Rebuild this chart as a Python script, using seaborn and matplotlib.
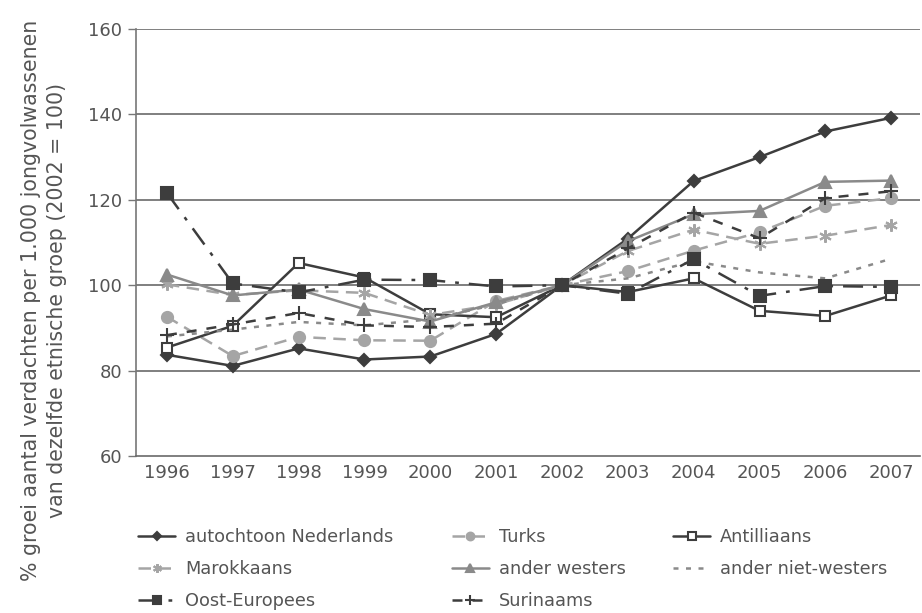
import matplotlib
matplotlib.use("Agg")
import matplotlib.pyplot as plt
import seaborn as sns
import pandas as pd

years = list(range(1996, 2008))

autochtoon = [83.7, 81.1, 85.2, 82.6, 83.3, 88.6, 100, 110.9, 124.4, 130.0, 136.0, 139.2]
turks = [92.6, 83.4, 87.9, 87.1, 87.0, 96.3, 100, 103.3, 108.1, 112.4, 118.6, 120.4]
antilliaans = [85.4, 90.5, 105.2, 101.8, 93.2, 92.5, 100, 98.4, 101.6, 94.0, 92.8, 97.6]
marokkaans = [100.2, 97.7, 98.8, 98.2, 93.0, 95.5, 100, 108.0, 113.0, 109.7, 111.6, 114.1]
ander_westers = [102.5, 97.6, 99.0, 94.4, 91.5, 96.0, 100, 110.3, 116.6, 117.4, 124.2, 124.5]
ander_niet_westers = [88.0, 89.6, 91.4, 90.6, 92.0, 95.5, 100, 101.6, 105.6, 103.0, 101.6, 106.2]
oost_europees = [121.6, 100.4, 98.3, 101.3, 101.2, 99.7, 100, 98.0, 106.1, 97.5, 99.8, 99.6]
surinaams = [88.3, 90.8, 93.5, 90.6, 90.2, 91.0, 100, 108.6, 117.0, 111.0, 120.4, 122.0]

names = ["autochtoon Nederlands", "Turks", "Antilliaans", "Marokkaans", "ander westers",
         "ander niet-westers", "Oost-Europees", "Surinaams"]
series = [autochtoon, turks, antilliaans, marokkaans, ander_westers,
          ander_niet_westers, oost_europees, surinaams]

rows = []
for n, vals in zip(names, series):
    for y, v in zip(years, vals):
        rows.append({"jaar": y, "waarde": v, "groep": n})
df = pd.DataFrame(rows)

dark = "#3d3d3d"
mid = "#8a8a8a"
light = "#a5a5a5"

styles = {
    "autochtoon Nederlands": dict(color=dark, marker="D", ms=6.5, mfc=dark, mec=dark, dashes=None),
    "Turks": dict(color=light, marker="o", ms=8, mfc=light, mec=light, dashes=(5, 3)),
    "Antilliaans": dict(color=dark, marker="s", ms=7.5, mfc="white", mec=dark, dashes=None),
    "Marokkaans": dict(color=light, marker=(6, 2, 0), ms=9, mfc=light, mec=light, dashes=(5, 3)),
    "ander westers": dict(color=mid, marker="^", ms=8, mfc=mid, mec=mid, dashes=None),
    "ander niet-westers": dict(color=mid, marker=None, ms=0, mfc=mid, mec=mid, dashes=(2, 3)),
    "Oost-Europees": dict(color=dark, marker="s", ms=8, mfc=dark, mec=dark, dashes=(8, 4, 1.5, 4)),
    "Surinaams": dict(color=dark, marker="+", ms=10, mfc=dark, mec=dark, dashes=(4, 4)),
}

sns.set_theme(style="white")
plt.rcParams["font.family"] = ["DejaVu Sans"]

fig = plt.figure(figsize=(9.22, 6.13), dpi=100)
ax = fig.add_axes([0.1475, 0.2561, 0.998 - 0.1475, 0.9527 - 0.2561])

handles = {}
for n in names:
    st = styles[n]
    sub = df[df["groep"] == n]
    kw = dict(color=st["color"], linewidth=1.8, label=n, ax=ax, legend=False)
    if st["marker"] is not None:
        kw.update(marker=st["marker"], markersize=st["ms"], markerfacecolor=st["mfc"],
                  markeredgecolor=st["mec"], markeredgewidth=1.5)
    sns.lineplot(data=sub, x="jaar", y="waarde", **kw)
    line = ax.get_lines()[-1]
    if st["dashes"] is not None:
        line.set_dashes(st["dashes"])
    handles[n] = line

ax.set_xlim(1995.53, 2007.44)
ax.set_ylim(60, 160)
ax.set_xticks(years)
ax.set_yticks([60, 80, 100, 120, 140, 160])
ax.tick_params(axis="x", length=0, labelsize=13, labelcolor="#555555", pad=6)
ax.tick_params(axis="y", length=6, width=1, color="#777777", labelsize=13, labelcolor="#555555", direction="out", left=True, pad=4)
for y in [80, 100, 120, 140, 160]:
    ax.axhline(y, color="#6a6a6a", linewidth=1.2, zorder=0)
for s in ["top", "right"]:
    ax.spines[s].set_visible(False)
ax.spines["left"].set_color("#777777")
ax.spines["bottom"].set_color("#6a6a6a")
ax.spines["left"].set_linewidth(1.2)
ax.spines["bottom"].set_linewidth(1.2)
ax.set_xlabel("")
ax.set_ylabel("% groei aantal verdachten per 1.000 jongvolwassenen\nvan dezelfde etnische groep (2002 = 100)",
              fontsize=14.8, color="#555555", linespacing=1.35)
ax.yaxis.set_label_coords(-0.088, 0.365)

columns = [
    (["autochtoon Nederlands", "Marokkaans", "Oost-Europees"], 0.1497),
    (["Turks", "ander westers", "Surinaams"], 0.490),
    (["Antilliaans", "ander niet-westers"], 0.730),
]
for labels, x0 in columns:
    leg = fig.legend(handles=[handles[l] for l in labels], labels=labels, loc="upper left",
                     bbox_to_anchor=(x0, 0.139), bbox_transform=fig.transFigure,
                     frameon=False, fontsize=12.8, handlelength=2.1, handletextpad=0.55,
                     labelspacing=0.8, borderpad=0, borderaxespad=0, labelcolor="#555555",
                     markerscale=0.7)

fig.savefig("out.png", dpi=100)
